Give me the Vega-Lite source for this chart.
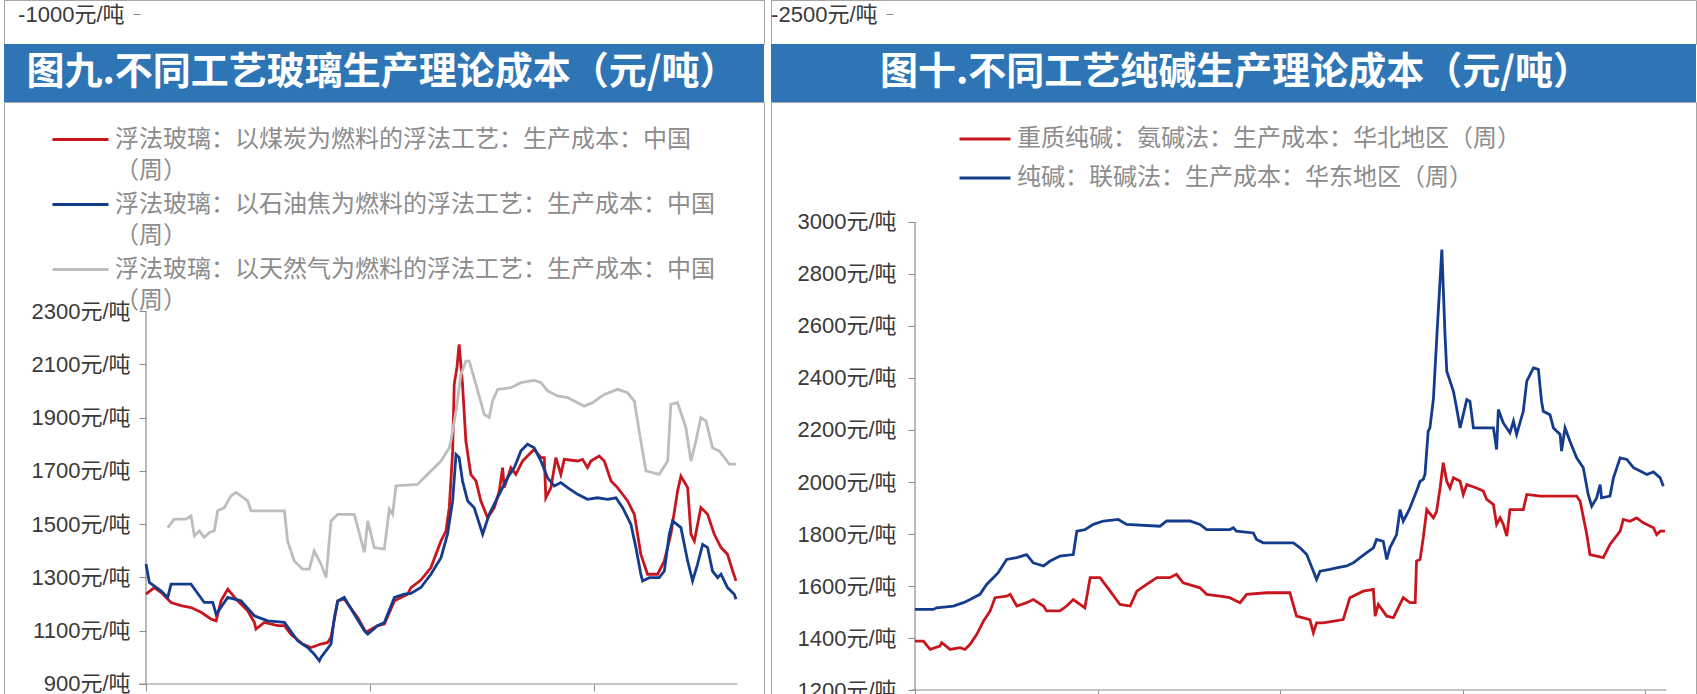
{
  "$schema": "https://vega.github.io/schema/vega-lite/v6.json",
  "padding": {"left": 3, "top": -1, "right": 2, "bottom": 0},
  "background": "white",
  "bounds": "flush",
  "columns": 2,
  "spacing": {"row": 0, "column": 7},
  "resolve": {"scale": {"color": "independent"}, "legend": {"color": "independent"}},
  "config": {
    "view": {"stroke": null},
    "style": {"guide-label": {"lineHeight": 31}},
    "axis": {"grid": false, "domainColor": "#8c8c8c", "tickColor": "#8c8c8c", "labelColor": "#3a3a3a", "labelFont": "Liberation Sans, Noto Sans CJK SC", "labelFontSize": 22, "tickSize": 7, "labelPadding": 9, "title": null}
  },
  "datasets": {
    "glass": [
      {"s":"浮法玻璃：以煤炭为燃料的浮法工艺：生产成本：中国（周）","u":0,"v":1237},{"s":"浮法玻璃：以煤炭为燃料的浮法工艺：生产成本：中国（周）","u":3.7,"v":1262},{"s":"浮法玻璃：以煤炭为燃料的浮法工艺：生产成本：中国（周）","u":6.7,"v":1244},{"s":"浮法玻璃：以煤炭为燃料的浮法工艺：生产成本：中国（周）","u":11.2,"v":1206},{"s":"浮法玻璃：以煤炭为燃料的浮法工艺：生产成本：中国（周）","u":15.6,"v":1194},{"s":"浮法玻璃：以煤炭为燃料的浮法工艺：生产成本：中国（周）","u":20.1,"v":1187},{"s":"浮法玻璃：以煤炭为燃料的浮法工艺：生产成本：中国（周）","u":24.6,"v":1169},{"s":"浮法玻璃：以煤炭为燃料的浮法工艺：生产成本：中国（周）","u":29.0,"v":1144},{"s":"浮法玻璃：以煤炭为燃料的浮法工艺：生产成本：中国（周）","u":31.3,"v":1137},{"s":"浮法玻璃：以煤炭为燃料的浮法工艺：生产成本：中国（周）","u":33.5,"v":1212},{"s":"浮法玻璃：以煤炭为燃料的浮法工艺：生产成本：中国（周）","u":36.5,"v":1256},{"s":"浮法玻璃：以煤炭为燃料的浮法工艺：生产成本：中国（周）","u":40.9,"v":1212},{"s":"浮法玻璃：以煤炭为燃料的浮法工艺：生产成本：中国（周）","u":45.4,"v":1175},{"s":"浮法玻璃：以煤炭为燃料的浮法工艺：生产成本：中国（周）","u":48.4,"v":1131},{"s":"浮法玻璃：以煤炭为燃料的浮法工艺：生产成本：中国（周）","u":49.1,"v":1106},{"s":"浮法玻璃：以煤炭为燃料的浮法工艺：生产成本：中国（周）","u":52.8,"v":1131},{"s":"浮法玻璃：以煤炭为燃料的浮法工艺：生产成本：中国（周）","u":58.8,"v":1119},{"s":"浮法玻璃：以煤炭为燃料的浮法工艺：生产成本：中国（周）","u":61.8,"v":1119},{"s":"浮法玻璃：以煤炭为燃料的浮法工艺：生产成本：中国（周）","u":64.7,"v":1087},{"s":"浮法玻璃：以煤炭为燃料的浮法工艺：生产成本：中国（周）","u":69.9,"v":1050},{"s":"浮法玻璃：以煤炭为燃料的浮法工艺：生产成本：中国（周）","u":73.7,"v":1037},{"s":"浮法玻璃：以煤炭为燃料的浮法工艺：生产成本：中国（周）","u":78.1,"v":1050},{"s":"浮法玻璃：以煤炭为燃料的浮法工艺：生产成本：中国（周）","u":81.1,"v":1056},{"s":"浮法玻璃：以煤炭为燃料的浮法工艺：生产成本：中国（周）","u":82.6,"v":1075},{"s":"浮法玻璃：以煤炭为燃料的浮法工艺：生产成本：中国（周）","u":85.6,"v":1212},{"s":"浮法玻璃：以煤炭为燃料的浮法工艺：生产成本：中国（周）","u":88.5,"v":1219},{"s":"浮法玻璃：以煤炭为燃料的浮法工艺：生产成本：中国（周）","u":94.5,"v":1150},{"s":"浮法玻璃：以煤炭为燃料的浮法工艺：生产成本：中国（周）","u":98.2,"v":1094},{"s":"浮法玻璃：以煤炭为燃料的浮法工艺：生产成本：中国（周）","u":103.4,"v":1119},{"s":"浮法玻璃：以煤炭为燃料的浮法工艺：生产成本：中国（周）","u":106.4,"v":1125},{"s":"浮法玻璃：以煤炭为燃料的浮法工艺：生产成本：中国（周）","u":110.9,"v":1212},{"s":"浮法玻璃：以煤炭为燃料的浮法工艺：生产成本：中国（周）","u":116.8,"v":1237},{"s":"浮法玻璃：以煤炭为燃料的浮法工艺：生产成本：中国（周）","u":118.3,"v":1262},{"s":"浮法玻璃：以煤炭为燃料的浮法工艺：生产成本：中国（周）","u":122.7,"v":1290},{"s":"浮法玻璃：以煤炭为燃料的浮法工艺：生产成本：中国（周）","u":127.2,"v":1337},{"s":"浮法玻璃：以煤炭为燃料的浮法工艺：生产成本：中国（周）","u":131.7,"v":1437},{"s":"浮法玻璃：以煤炭为燃料的浮法工艺：生产成本：中国（周）","u":133.9,"v":1474},{"s":"浮法玻璃：以煤炭为燃料的浮法工艺：生产成本：中国（周）","u":135.4,"v":1562},{"s":"浮法玻璃：以煤炭为燃料的浮法工艺：生产成本：中国（周）","u":136.9,"v":1775},{"s":"浮法玻璃：以煤炭为燃料的浮法工艺：生产成本：中国（周）","u":137.6,"v":2025},{"s":"浮法玻璃：以煤炭为燃料的浮法工艺：生产成本：中国（周）","u":138.8,"v":2087},{"s":"浮法玻璃：以煤炭为燃料的浮法工艺：生产成本：中国（周）","u":139.8,"v":2175},{"s":"浮法玻璃：以煤炭为燃料的浮法工艺：生产成本：中国（周）","u":141.3,"v":2025},{"s":"浮法玻璃：以煤炭为燃料的浮法工艺：生产成本：中国（周）","u":142.8,"v":1812},{"s":"浮法玻璃：以煤炭为燃料的浮法工艺：生产成本：中国（周）","u":145.0,"v":1687},{"s":"浮法玻璃：以煤炭为燃料的浮法工艺：生产成本：中国（周）","u":147.3,"v":1662},{"s":"浮法玻璃：以煤炭为燃料的浮法工艺：生产成本：中国（周）","u":149.5,"v":1587},{"s":"浮法玻璃：以煤炭为燃料的浮法工艺：生产成本：中国（周）","u":152.5,"v":1524},{"s":"浮法玻璃：以煤炭为燃料的浮法工艺：生产成本：中国（周）","u":155.5,"v":1562},{"s":"浮法玻璃：以煤炭为燃料的浮法工艺：生产成本：中国（周）","u":157.7,"v":1624},{"s":"浮法玻璃：以煤炭为燃料的浮法工艺：生产成本：中国（周）","u":159.2,"v":1712},{"s":"浮法玻璃：以煤炭为燃料的浮法工艺：生产成本：中国（周）","u":159.9,"v":1637},{"s":"浮法玻璃：以煤炭为燃料的浮法工艺：生产成本：中国（周）","u":162.9,"v":1712},{"s":"浮法玻璃：以煤炭为燃料的浮法工艺：生产成本：中国（周）","u":165.1,"v":1687},{"s":"浮法玻璃：以煤炭为燃料的浮法工艺：生产成本：中国（周）","u":168.1,"v":1737},{"s":"浮法玻璃：以煤炭为燃料的浮法工艺：生产成本：中国（周）","u":171.1,"v":1762},{"s":"浮法玻璃：以煤炭为燃料的浮法工艺：生产成本：中国（周）","u":173.3,"v":1781},{"s":"浮法玻璃：以煤炭为燃料的浮法工艺：生产成本：中国（周）","u":176.3,"v":1750},{"s":"浮法玻璃：以煤炭为燃料的浮法工艺：生产成本：中国（周）","u":177.8,"v":1750},{"s":"浮法玻璃：以煤炭为燃料的浮法工艺：生产成本：中国（周）","u":178.5,"v":1599},{"s":"浮法玻璃：以煤炭为燃料的浮法工艺：生产成本：中国（周）","u":180.8,"v":1637},{"s":"浮法玻璃：以煤炭为燃料的浮法工艺：生产成本：中国（周）","u":183.0,"v":1750},{"s":"浮法玻璃：以煤炭为燃料的浮法工艺：生产成本：中国（周）","u":185.2,"v":1687},{"s":"浮法玻璃：以煤炭为燃料的浮法工艺：生产成本：中国（周）","u":186.7,"v":1743},{"s":"浮法玻璃：以煤炭为燃料的浮法工艺：生产成本：中国（周）","u":192.7,"v":1737},{"s":"浮法玻璃：以煤炭为燃料的浮法工艺：生产成本：中国（周）","u":194.9,"v":1743},{"s":"浮法玻璃：以煤炭为燃料的浮法工艺：生产成本：中国（周）","u":197.1,"v":1712},{"s":"浮法玻璃：以煤炭为燃料的浮法工艺：生产成本：中国（周）","u":198.6,"v":1737},{"s":"浮法玻璃：以煤炭为燃料的浮法工艺：生产成本：中国（周）","u":202.3,"v":1756},{"s":"浮法玻璃：以煤炭为燃料的浮法工艺：生产成本：中国（周）","u":204.6,"v":1737},{"s":"浮法玻璃：以煤炭为燃料的浮法工艺：生产成本：中国（周）","u":207.6,"v":1662},{"s":"浮法玻璃：以煤炭为燃料的浮法工艺：生产成本：中国（周）","u":210.5,"v":1637},{"s":"浮法玻璃：以煤炭为燃料的浮法工艺：生产成本：中国（周）","u":215.0,"v":1587},{"s":"浮法玻璃：以煤炭为燃料的浮法工艺：生产成本：中国（周）","u":218.0,"v":1537},{"s":"浮法玻璃：以煤炭为燃料的浮法工艺：生产成本：中国（周）","u":220.9,"v":1387},{"s":"浮法玻璃：以煤炭为燃料的浮法工艺：生产成本：中国（周）","u":223.9,"v":1312},{"s":"浮法玻璃：以煤炭为燃料的浮法工艺：生产成本：中国（周）","u":228.4,"v":1312},{"s":"浮法玻璃：以煤炭为燃料的浮法工艺：生产成本：中国（周）","u":231.4,"v":1362},{"s":"浮法玻璃：以煤炭为燃料的浮法工艺：生产成本：中国（周）","u":234.3,"v":1462},{"s":"浮法玻璃：以煤炭为燃料的浮法工艺：生产成本：中国（周）","u":237.3,"v":1624},{"s":"浮法玻璃：以煤炭为燃料的浮法工艺：生产成本：中国（周）","u":238.8,"v":1680},{"s":"浮法玻璃：以煤炭为燃料的浮法工艺：生产成本：中国（周）","u":241.8,"v":1637},{"s":"浮法玻璃：以煤炭为燃料的浮法工艺：生产成本：中国（周）","u":243.3,"v":1462},{"s":"浮法玻璃：以煤炭为燃料的浮法工艺：生产成本：中国（周）","u":244.8,"v":1437},{"s":"浮法玻璃：以煤炭为燃料的浮法工艺：生产成本：中国（周）","u":247.7,"v":1562},{"s":"浮法玻璃：以煤炭为燃料的浮法工艺：生产成本：中国（周）","u":250.7,"v":1537},{"s":"浮法玻璃：以煤炭为燃料的浮法工艺：生产成本：中国（周）","u":253.7,"v":1462},{"s":"浮法玻璃：以煤炭为燃料的浮法工艺：生产成本：中国（周）","u":256.7,"v":1412},{"s":"浮法玻璃：以煤炭为燃料的浮法工艺：生产成本：中国（周）","u":259.6,"v":1387},{"s":"浮法玻璃：以煤炭为燃料的浮法工艺：生产成本：中国（周）","u":261.9,"v":1324},{"s":"浮法玻璃：以煤炭为燃料的浮法工艺：生产成本：中国（周）","u":263.4,"v":1287},
      {"s":"浮法玻璃：以石油焦为燃料的浮法工艺：生产成本：中国（周）","u":0,"v":1350},{"s":"浮法玻璃：以石油焦为燃料的浮法工艺：生产成本：中国（周）","u":1.5,"v":1281},{"s":"浮法玻璃：以石油焦为燃料的浮法工艺：生产成本：中国（周）","u":6.7,"v":1250},{"s":"浮法玻璃：以石油焦为燃料的浮法工艺：生产成本：中国（周）","u":9.7,"v":1225},{"s":"浮法玻璃：以石油焦为燃料的浮法工艺：生产成本：中国（周）","u":11.2,"v":1275},{"s":"浮法玻璃：以石油焦为燃料的浮法工艺：生产成本：中国（周）","u":20.1,"v":1275},{"s":"浮法玻璃：以石油焦为燃料的浮法工艺：生产成本：中国（周）","u":26.0,"v":1206},{"s":"浮法玻璃：以石油焦为燃料的浮法工艺：生产成本：中国（周）","u":29.8,"v":1206},{"s":"浮法玻璃：以石油焦为燃料的浮法工艺：生产成本：中国（周）","u":31.3,"v":1162},{"s":"浮法玻璃：以石油焦为燃料的浮法工艺：生产成本：中国（周）","u":36.5,"v":1225},{"s":"浮法玻璃：以石油焦为燃料的浮法工艺：生产成本：中国（周）","u":42.4,"v":1212},{"s":"浮法玻璃：以石油焦为燃料的浮法工艺：生产成本：中国（周）","u":48.4,"v":1156},{"s":"浮法玻璃：以石油焦为燃料的浮法工艺：生产成本：中国（周）","u":54.3,"v":1137},{"s":"浮法玻璃：以石油焦为燃料的浮法工艺：生产成本：中国（周）","u":61.8,"v":1131},{"s":"浮法玻璃：以石油焦为燃料的浮法工艺：生产成本：中国（周）","u":67.7,"v":1062},{"s":"浮法玻璃：以石油焦为燃料的浮法工艺：生产成本：中国（周）","u":72.2,"v":1037},{"s":"浮法玻璃：以石油焦为燃料的浮法工艺：生产成本：中国（周）","u":75.1,"v":1012},{"s":"浮法玻璃：以石油焦为燃料的浮法工艺：生产成本：中国（周）","u":77.4,"v":987},{"s":"浮法玻璃：以石油焦为燃料的浮法工艺：生产成本：中国（周）","u":78.1,"v":1000},{"s":"浮法玻璃：以石油焦为燃料的浮法工艺：生产成本：中国（周）","u":80.4,"v":1025},{"s":"浮法玻璃：以石油焦为燃料的浮法工艺：生产成本：中国（周）","u":82.6,"v":1050},{"s":"浮法玻璃：以石油焦为燃料的浮法工艺：生产成本：中国（周）","u":84.1,"v":1150},{"s":"浮法玻璃：以石油焦为燃料的浮法工艺：生产成本：中国（周）","u":85.6,"v":1212},{"s":"浮法玻璃：以石油焦为燃料的浮法工艺：生产成本：中国（周）","u":88.5,"v":1225},{"s":"浮法玻璃：以石油焦为燃料的浮法工艺：生产成本：中国（周）","u":93.0,"v":1162},{"s":"浮法玻璃：以石油焦为燃料的浮法工艺：生产成本：中国（周）","u":97.5,"v":1100},{"s":"浮法玻璃：以石油焦为燃料的浮法工艺：生产成本：中国（周）","u":99.0,"v":1087},{"s":"浮法玻璃：以石油焦为燃料的浮法工艺：生产成本：中国（周）","u":103.4,"v":1119},{"s":"浮法玻璃：以石油焦为燃料的浮法工艺：生产成本：中国（周）","u":106.4,"v":1131},{"s":"浮法玻璃：以石油焦为燃料的浮法工艺：生产成本：中国（周）","u":110.9,"v":1225},{"s":"浮法玻璃：以石油焦为燃料的浮法工艺：生产成本：中国（周）","u":115.3,"v":1237},{"s":"浮法玻璃：以石油焦为燃料的浮法工艺：生产成本：中国（周）","u":118.3,"v":1240},{"s":"浮法玻璃：以石油焦为燃料的浮法工艺：生产成本：中国（周）","u":122.7,"v":1262},{"s":"浮法玻璃：以石油焦为燃料的浮法工艺：生产成本：中国（周）","u":127.2,"v":1312},{"s":"浮法玻璃：以石油焦为燃料的浮法工艺：生产成本：中国（周）","u":131.7,"v":1374},{"s":"浮法玻璃：以石油焦为燃料的浮法工艺：生产成本：中国（周）","u":134.6,"v":1462},{"s":"浮法玻璃：以石油焦为燃料的浮法工艺：生产成本：中国（周）","u":136.9,"v":1587},{"s":"浮法玻璃：以石油焦为燃料的浮法工艺：生产成本：中国（周）","u":138.4,"v":1762},{"s":"浮法玻璃：以石油焦为燃料的浮法工艺：生产成本：中国（周）","u":139.8,"v":1750},{"s":"浮法玻璃：以石油焦为燃料的浮法工艺：生产成本：中国（周）","u":141.3,"v":1662},{"s":"浮法玻璃：以石油焦为燃料的浮法工艺：生产成本：中国（周）","u":143.6,"v":1587},{"s":"浮法玻璃：以石油焦为燃料的浮法工艺：生产成本：中国（周）","u":146.5,"v":1562},{"s":"浮法玻璃：以石油焦为燃料的浮法工艺：生产成本：中国（周）","u":150.3,"v":1462},{"s":"浮法玻璃：以石油焦为燃料的浮法工艺：生产成本：中国（周）","u":153.2,"v":1537},{"s":"浮法玻璃：以石油焦为燃料的浮法工艺：生产成本：中国（周）","u":156.2,"v":1587},{"s":"浮法玻璃：以石油焦为燃料的浮法工艺：生产成本：中国（周）","u":159.2,"v":1637},{"s":"浮法玻璃：以石油焦为燃料的浮法工艺：生产成本：中国（周）","u":161.4,"v":1674},{"s":"浮法玻璃：以石油焦为燃料的浮法工艺：生产成本：中国（周）","u":164.4,"v":1712},{"s":"浮法玻璃：以石油焦为燃料的浮法工艺：生产成本：中国（周）","u":167.4,"v":1775},{"s":"浮法玻璃：以石油焦为燃料的浮法工艺：生产成本：中国（周）","u":170.3,"v":1800},{"s":"浮法玻璃：以石油焦为燃料的浮法工艺：生产成本：中国（周）","u":173.3,"v":1787},{"s":"浮法玻璃：以石油焦为燃料的浮法工艺：生产成本：中国（周）","u":176.3,"v":1737},{"s":"浮法玻璃：以石油焦为燃料的浮法工艺：生产成本：中国（周）","u":179.3,"v":1674},{"s":"浮法玻璃：以石油焦为燃料的浮法工艺：生产成本：中国（周）","u":182.3,"v":1643},{"s":"浮法玻璃：以石油焦为燃料的浮法工艺：生产成本：中国（周）","u":185.2,"v":1656},{"s":"浮法玻璃：以石油焦为燃料的浮法工艺：生产成本：中国（周）","u":188.2,"v":1637},{"s":"浮法玻璃：以石油焦为燃料的浮法工艺：生产成本：中国（周）","u":192.7,"v":1612},{"s":"浮法玻璃：以石油焦为燃料的浮法工艺：生产成本：中国（周）","u":197.1,"v":1593},{"s":"浮法玻璃：以石油焦为燃料的浮法工艺：生产成本：中国（周）","u":201.6,"v":1599},{"s":"浮法玻璃：以石油焦为燃料的浮法工艺：生产成本：中国（周）","u":206.1,"v":1593},{"s":"浮法玻璃：以石油焦为燃料的浮法工艺：生产成本：中国（周）","u":209.8,"v":1599},{"s":"浮法玻璃：以石油焦为燃料的浮法工艺：生产成本：中国（周）","u":212.8,"v":1562},{"s":"浮法玻璃：以石油焦为燃料的浮法工艺：生产成本：中国（周）","u":216.5,"v":1499},{"s":"浮法玻璃：以石油焦为燃料的浮法工艺：生产成本：中国（周）","u":218.7,"v":1412},{"s":"浮法玻璃：以石油焦为燃料的浮法工艺：生产成本：中国（周）","u":220.9,"v":1312},{"s":"浮法玻璃：以石油焦为燃料的浮法工艺：生产成本：中国（周）","u":221.7,"v":1287},{"s":"浮法玻璃：以石油焦为燃料的浮法工艺：生产成本：中国（周）","u":224.7,"v":1299},{"s":"浮法玻璃：以石油焦为燃料的浮法工艺：生产成本：中国（周）","u":229.1,"v":1299},{"s":"浮法玻璃：以石油焦为燃料的浮法工艺：生产成本：中国（周）","u":231.4,"v":1324},{"s":"浮法玻璃：以石油焦为燃料的浮法工艺：生产成本：中国（周）","u":233.6,"v":1462},{"s":"浮法玻璃：以石油焦为燃料的浮法工艺：生产成本：中国（周）","u":235.1,"v":1512},{"s":"浮法玻璃：以石油焦为燃料的浮法工艺：生产成本：中国（周）","u":238.8,"v":1487},{"s":"浮法玻璃：以石油焦为燃料的浮法工艺：生产成本：中国（周）","u":241.8,"v":1362},{"s":"浮法玻璃：以石油焦为燃料的浮法工艺：生产成本：中国（周）","u":244.0,"v":1287},{"s":"浮法玻璃：以石油焦为燃料的浮法工艺：生产成本：中国（周）","u":246.2,"v":1349},{"s":"浮法玻璃：以石油焦为燃料的浮法工艺：生产成本：中国（周）","u":248.5,"v":1424},{"s":"浮法玻璃：以石油焦为燃料的浮法工艺：生产成本：中国（周）","u":250.7,"v":1412},{"s":"浮法玻璃：以石油焦为燃料的浮法工艺：生产成本：中国（周）","u":252.9,"v":1324},{"s":"浮法玻璃：以石油焦为燃料的浮法工艺：生产成本：中国（周）","u":255.2,"v":1299},{"s":"浮法玻璃：以石油焦为燃料的浮法工艺：生产成本：中国（周）","u":256.7,"v":1312},{"s":"浮法玻璃：以石油焦为燃料的浮法工艺：生产成本：中国（周）","u":259.6,"v":1262},{"s":"浮法玻璃：以石油焦为燃料的浮法工艺：生产成本：中国（周）","u":262.6,"v":1237},{"s":"浮法玻璃：以石油焦为燃料的浮法工艺：生产成本：中国（周）","u":263.4,"v":1218},
      {"s":"浮法玻璃：以天然气为燃料的浮法工艺：生产成本：中国（周）","u":9.7,"v":1487},{"s":"浮法玻璃：以天然气为燃料的浮法工艺：生产成本：中国（周）","u":12.6,"v":1519},{"s":"浮法玻璃：以天然气为燃料的浮法工艺：生产成本：中国（周）","u":17.9,"v":1519},{"s":"浮法玻璃：以天然气为燃料的浮法工艺：生产成本：中国（周）","u":20.1,"v":1531},{"s":"浮法玻璃：以天然气为燃料的浮法工艺：生产成本：中国（周）","u":21.6,"v":1456},{"s":"浮法玻璃：以天然气为燃料的浮法工艺：生产成本：中国（周）","u":23.8,"v":1475},{"s":"浮法玻璃：以天然气为燃料的浮法工艺：生产成本：中国（周）","u":26.0,"v":1450},{"s":"浮法玻璃：以天然气为燃料的浮法工艺：生产成本：中国（周）","u":28.3,"v":1469},{"s":"浮法玻璃：以天然气为燃料的浮法工艺：生产成本：中国（周）","u":30.5,"v":1475},{"s":"浮法玻璃：以天然气为燃料的浮法工艺：生产成本：中国（周）","u":32.0,"v":1550},{"s":"浮法玻璃：以天然气为燃料的浮法工艺：生产成本：中国（周）","u":35.0,"v":1562},{"s":"浮法玻璃：以天然气为燃料的浮法工艺：生产成本：中国（周）","u":37.9,"v":1606},{"s":"浮法玻璃：以天然气为燃料的浮法工艺：生产成本：中国（周）","u":40.2,"v":1619},{"s":"浮法玻璃：以天然气为燃料的浮法工艺：生产成本：中国（周）","u":45.4,"v":1587},{"s":"浮法玻璃：以天然气为燃料的浮法工艺：生产成本：中国（周）","u":46.9,"v":1550},{"s":"浮法玻璃：以天然气为燃料的浮法工艺：生产成本：中国（周）","u":61.8,"v":1550},{"s":"浮法玻璃：以天然气为燃料的浮法工艺：生产成本：中国（周）","u":63.2,"v":1437},{"s":"浮法玻璃：以天然气为燃料的浮法工艺：生产成本：中国（周）","u":66.2,"v":1362},{"s":"浮法玻璃：以天然气为燃料的浮法工艺：生产成本：中国（周）","u":69.9,"v":1331},{"s":"浮法玻璃：以天然气为燃料的浮法工艺：生产成本：中国（周）","u":72.9,"v":1331},{"s":"浮法玻璃：以天然气为燃料的浮法工艺：生产成本：中国（周）","u":75.1,"v":1400},{"s":"浮法玻璃：以天然气为燃料的浮法工艺：生产成本：中国（周）","u":78.1,"v":1350},{"s":"浮法玻璃：以天然气为燃料的浮法工艺：生产成本：中国（周）","u":80.4,"v":1300},{"s":"浮法玻璃：以天然气为燃料的浮法工艺：生产成本：中国（周）","u":82.6,"v":1512},{"s":"浮法玻璃：以天然气为燃料的浮法工艺：生产成本：中国（周）","u":85.6,"v":1537},{"s":"浮法玻璃：以天然气为燃料的浮法工艺：生产成本：中国（周）","u":93.0,"v":1537},{"s":"浮法玻璃：以天然气为燃料的浮法工艺：生产成本：中国（周）","u":97.5,"v":1394},{"s":"浮法玻璃：以天然气为燃料的浮法工艺：生产成本：中国（周）","u":99.0,"v":1512},{"s":"浮法玻璃：以天然气为燃料的浮法工艺：生产成本：中国（周）","u":101.9,"v":1412},{"s":"浮法玻璃：以天然气为燃料的浮法工艺：生产成本：中国（周）","u":106.4,"v":1406},{"s":"浮法玻璃：以天然气为燃料的浮法工艺：生产成本：中国（周）","u":108.6,"v":1556},{"s":"浮法玻璃：以天然气为燃料的浮法工艺：生产成本：中国（周）","u":110.1,"v":1537},{"s":"浮法玻璃：以天然气为燃料的浮法工艺：生产成本：中国（周）","u":111.6,"v":1644},{"s":"浮法玻璃：以天然气为燃料的浮法工艺：生产成本：中国（周）","u":121.2,"v":1649},{"s":"浮法玻璃：以天然气为燃料的浮法工艺：生产成本：中国（周）","u":125.7,"v":1687},{"s":"浮法玻璃：以天然气为燃料的浮法工艺：生产成本：中国（周）","u":131.7,"v":1737},{"s":"浮法玻璃：以天然气为燃料的浮法工艺：生产成本：中国（周）","u":135.4,"v":1787},{"s":"浮法玻璃：以天然气为燃料的浮法工艺：生产成本：中国（周）","u":136.1,"v":1812},{"s":"浮法玻璃：以天然气为燃料的浮法工艺：生产成本：中国（周）","u":138.4,"v":1924},{"s":"浮法玻璃：以天然气为燃料的浮法工艺：生产成本：中国（周）","u":140.6,"v":2062},{"s":"浮法玻璃：以天然气为燃料的浮法工艺：生产成本：中国（周）","u":142.8,"v":2112},{"s":"浮法玻璃：以天然气为燃料的浮法工艺：生产成本：中国（周）","u":144.3,"v":2112},{"s":"浮法玻璃：以天然气为燃料的浮法工艺：生产成本：中国（周）","u":147.3,"v":2025},{"s":"浮法玻璃：以天然气为燃料的浮法工艺：生产成本：中国（周）","u":151.0,"v":1912},{"s":"浮法玻璃：以天然气为燃料的浮法工艺：生产成本：中国（周）","u":153.2,"v":1900},{"s":"浮法玻璃：以天然气为燃料的浮法工艺：生产成本：中国（周）","u":154.7,"v":1962},{"s":"浮法玻璃：以天然气为燃料的浮法工艺：生产成本：中国（周）","u":157.0,"v":2006},{"s":"浮法玻璃：以天然气为燃料的浮法工艺：生产成本：中国（周）","u":162.9,"v":2012},{"s":"浮法玻璃：以天然气为燃料的浮法工艺：生产成本：中国（周）","u":167.4,"v":2031},{"s":"浮法玻璃：以天然气为燃料的浮法工艺：生产成本：中国（周）","u":173.3,"v":2040},{"s":"浮法玻璃：以天然气为燃料的浮法工艺：生产成本：中国（周）","u":176.3,"v":2031},{"s":"浮法玻璃：以天然气为燃料的浮法工艺：生产成本：中国（周）","u":179.3,"v":2000},{"s":"浮法玻璃：以天然气为燃料的浮法工艺：生产成本：中国（周）","u":183.7,"v":1981},{"s":"浮法玻璃：以天然气为燃料的浮法工艺：生产成本：中国（周）","u":188.2,"v":1975},{"s":"浮法玻璃：以天然气为燃料的浮法工艺：生产成本：中国（周）","u":191.2,"v":1962},{"s":"浮法玻璃：以天然气为燃料的浮法工艺：生产成本：中国（周）","u":195.6,"v":1943},{"s":"浮法玻璃：以天然气为燃料的浮法工艺：生产成本：中国（周）","u":199.4,"v":1956},{"s":"浮法玻璃：以天然气为燃料的浮法工艺：生产成本：中国（周）","u":204.6,"v":1987},{"s":"浮法玻璃：以天然气为燃料的浮法工艺：生产成本：中国（周）","u":210.5,"v":2006},{"s":"浮法玻璃：以天然气为燃料的浮法工艺：生产成本：中国（周）","u":215.0,"v":1993},{"s":"浮法玻璃：以天然气为燃料的浮法工艺：生产成本：中国（周）","u":218.0,"v":1962},{"s":"浮法玻璃：以天然气为燃料的浮法工艺：生产成本：中国（周）","u":220.9,"v":1812},{"s":"浮法玻璃：以天然气为燃料的浮法工艺：生产成本：中国（周）","u":223.2,"v":1700},{"s":"浮法玻璃：以天然气为燃料的浮法工艺：生产成本：中国（周）","u":229.1,"v":1687},{"s":"浮法玻璃：以天然气为燃料的浮法工艺：生产成本：中国（周）","u":232.9,"v":1737},{"s":"浮法玻璃：以天然气为燃料的浮法工艺：生产成本：中国（周）","u":234.3,"v":1950},{"s":"浮法玻璃：以天然气为燃料的浮法工艺：生产成本：中国（周）","u":237.3,"v":1956},{"s":"浮法玻璃：以天然气为燃料的浮法工艺：生产成本：中国（周）","u":241.0,"v":1862},{"s":"浮法玻璃：以天然气为燃料的浮法工艺：生产成本：中国（周）","u":243.3,"v":1737},{"s":"浮法玻璃：以天然气为燃料的浮法工艺：生产成本：中国（周）","u":245.5,"v":1812},{"s":"浮法玻璃：以天然气为燃料的浮法工艺：生产成本：中国（周）","u":247.7,"v":1900},{"s":"浮法玻璃：以天然气为燃料的浮法工艺：生产成本：中国（周）","u":250.0,"v":1887},{"s":"浮法玻璃：以天然气为燃料的浮法工艺：生产成本：中国（周）","u":252.9,"v":1787},{"s":"浮法玻璃：以天然气为燃料的浮法工艺：生产成本：中国（周）","u":255.9,"v":1775},{"s":"浮法玻璃：以天然气为燃料的浮法工艺：生产成本：中国（周）","u":260.4,"v":1725},{"s":"浮法玻璃：以天然气为燃料的浮法工艺：生产成本：中国（周）","u":263.4,"v":1725}
    ],
    "soda": [
      {"s":"重质纯碱：氨碱法：生产成本：华北地区（周）","u":0,"v":1388},{"s":"重质纯碱：氨碱法：生产成本：华北地区（周）","u":2.4,"v":1388},{"s":"重质纯碱：氨碱法：生产成本：华北地区（周）","u":4.3,"v":1356},{"s":"重质纯碱：氨碱法：生产成本：华北地区（周）","u":7.1,"v":1369},{"s":"重质纯碱：氨碱法：生产成本：华北地区（周）","u":7.6,"v":1382},{"s":"重质纯碱：氨碱法：生产成本：华北地区（周）","u":10.0,"v":1356},{"s":"重质纯碱：氨碱法：生产成本：华北地区（周）","u":12.8,"v":1363},{"s":"重质纯碱：氨碱法：生产成本：华北地区（周）","u":14.2,"v":1356},{"s":"重质纯碱：氨碱法：生产成本：华北地区（周）","u":15.7,"v":1376},{"s":"重质纯碱：氨碱法：生产成本：华北地区（周）","u":17.6,"v":1414},{"s":"重质纯碱：氨碱法：生产成本：华北地区（周）","u":19.5,"v":1465},{"s":"重质纯碱：氨碱法：生产成本：华北地区（周）","u":21.4,"v":1504},{"s":"重质纯碱：氨碱法：生产成本：华北地区（周）","u":22.8,"v":1555},{"s":"重质纯碱：氨碱法：生产成本：华北地区（周）","u":26.1,"v":1561},{"s":"重质纯碱：氨碱法：生产成本：华北地区（周）","u":27.1,"v":1568},{"s":"重质纯碱：氨碱法：生产成本：华北地区（周）","u":29.0,"v":1523},{"s":"重质纯碱：氨碱法：生产成本：华北地区（周）","u":31.8,"v":1536},{"s":"重质纯碱：氨碱法：生产成本：华北地区（周）","u":33.7,"v":1548},{"s":"重质纯碱：氨碱法：生产成本：华北地区（周）","u":36.6,"v":1523},{"s":"重质纯碱：氨碱法：生产成本：华北地区（周）","u":37.5,"v":1504},{"s":"重质纯碱：氨碱法：生产成本：华北地区（周）","u":41.3,"v":1504},{"s":"重质纯碱：氨碱法：生产成本：华北地区（周）","u":43.2,"v":1523},{"s":"重质纯碱：氨碱法：生产成本：华北地区（周）","u":45.1,"v":1548},{"s":"重质纯碱：氨碱法：生产成本：华北地区（周）","u":48.4,"v":1516},{"s":"重质纯碱：氨碱法：生产成本：华北地区（周）","u":49.9,"v":1632},{"s":"重质纯碱：氨碱法：生产成本：华北地区（周）","u":52.7,"v":1632},{"s":"重质纯碱：氨碱法：生产成本：华北地区（周）","u":55.6,"v":1580},{"s":"重质纯碱：氨碱法：生产成本：华北地区（周）","u":58.4,"v":1529},{"s":"重质纯碱：氨碱法：生产成本：华北地区（周）","u":61.3,"v":1523},{"s":"重质纯碱：氨碱法：生产成本：华北地区（周）","u":63.2,"v":1580},{"s":"重质纯碱：氨碱法：生产成本：华北地区（周）","u":66.0,"v":1606},{"s":"重质纯碱：氨碱法：生产成本：华北地区（周）","u":68.9,"v":1632},{"s":"重质纯碱：氨碱法：生产成本：华北地区（周）","u":72.6,"v":1632},{"s":"重质纯碱：氨碱法：生产成本：华北地区（周）","u":74.5,"v":1645},{"s":"重质纯碱：氨碱法：生产成本：华北地区（周）","u":76.4,"v":1612},{"s":"重质纯碱：氨碱法：生产成本：华北地区（周）","u":81.2,"v":1593},{"s":"重质纯碱：氨碱法：生产成本：华北地区（周）","u":83.1,"v":1568},{"s":"重质纯碱：氨碱法：生产成本：华北地区（周）","u":86.9,"v":1561},{"s":"重质纯碱：氨碱法：生产成本：华北地区（周）","u":89.7,"v":1555},{"s":"重质纯碱：氨碱法：生产成本：华北地区（周）","u":90.7,"v":1548},{"s":"重质纯碱：氨碱法：生产成本：华北地区（周）","u":92.6,"v":1536},{"s":"重质纯碱：氨碱法：生产成本：华北地区（周）","u":94.5,"v":1568},{"s":"重质纯碱：氨碱法：生产成本：华北地区（周）","u":100.2,"v":1574},{"s":"重质纯碱：氨碱法：生产成本：华北地区（周）","u":106.8,"v":1574},{"s":"重质纯碱：氨碱法：生产成本：华北地区（周）","u":108.7,"v":1484},{"s":"重质纯碱：氨碱法：生产成本：华北地区（周）","u":112.5,"v":1471},{"s":"重质纯碱：氨碱法：生产成本：华北地区（周）","u":113.5,"v":1420},{"s":"重质纯碱：氨碱法：生产成本：华北地区（周）","u":114.4,"v":1458},{"s":"重质纯碱：氨碱法：生产成本：华北地区（周）","u":116.3,"v":1458},{"s":"重质纯碱：氨碱法：生产成本：华北地区（周）","u":122.0,"v":1471},{"s":"重质纯碱：氨碱法：生产成本：华北地区（周）","u":123.9,"v":1555},{"s":"重质纯碱：氨碱法：生产成本：华北地区（周）","u":127.7,"v":1580},{"s":"重质纯碱：氨碱法：生产成本：华北地区（周）","u":130.6,"v":1587},{"s":"重质纯碱：氨碱法：生产成本：华北地区（周）","u":131.1,"v":1484},{"s":"重质纯碱：氨碱法：生产成本：华北地区（周）","u":132.0,"v":1529},{"s":"重质纯碱：氨碱法：生产成本：华北地区（周）","u":134.4,"v":1484},{"s":"重质纯碱：氨碱法：生产成本：华北地区（周）","u":136.3,"v":1478},{"s":"重质纯碱：氨碱法：生产成本：华北地区（周）","u":139.1,"v":1555},{"s":"重质纯碱：氨碱法：生产成本：华北地区（周）","u":141.0,"v":1536},{"s":"重质纯碱：氨碱法：生产成本：华北地区（周）","u":142.5,"v":1536},{"s":"重质纯碱：氨碱法：生产成本：华北地区（周）","u":142.9,"v":1696},{"s":"重质纯碱：氨碱法：生产成本：华北地区（周）","u":143.9,"v":1702},{"s":"重质纯碱：氨碱法：生产成本：华北地区（周）","u":144.8,"v":1785},{"s":"重质纯碱：氨碱法：生产成本：华北地区（周）","u":145.8,"v":1894},{"s":"重质纯碱：氨碱法：生产成本：华北地区（周）","u":147.7,"v":1862},{"s":"重质纯碱：氨碱法：生产成本：华北地区（周）","u":148.6,"v":1887},{"s":"重质纯碱：氨碱法：生产成本：华北地区（周）","u":149.6,"v":1977},{"s":"重质纯碱：氨碱法：生产成本：华北地区（周）","u":150.5,"v":2074},{"s":"重质纯碱：氨碱法：生产成本：华北地区（周）","u":151.5,"v":2003},{"s":"重质纯碱：氨碱法：生产成本：华北地区（周）","u":152.4,"v":1977},{"s":"重质纯碱：氨碱法：生产成本：华北地区（周）","u":153.4,"v":2016},{"s":"重质纯碱：氨碱法：生产成本：华北地区（周）","u":155.3,"v":2003},{"s":"重质纯碱：氨碱法：生产成本：华北地区（周）","u":156.2,"v":1952},{"s":"重质纯碱：氨碱法：生产成本：华北地区（周）","u":157.2,"v":1990},{"s":"重质纯碱：氨碱法：生产成本：华北地区（周）","u":160.0,"v":1977},{"s":"重质纯碱：氨碱法：生产成本：华北地区（周）","u":161.9,"v":1965},{"s":"重质纯碱：氨碱法：生产成本：华北地区（周）","u":162.9,"v":1933},{"s":"重质纯碱：氨碱法：生产成本：华北地区（周）","u":164.8,"v":1913},{"s":"重质纯碱：氨碱法：生产成本：华北地区（周）","u":165.7,"v":1837},{"s":"重质纯碱：氨碱法：生产成本：华北地区（周）","u":166.7,"v":1862},{"s":"重质纯碱：氨碱法：生产成本：华北地区（周）","u":167.6,"v":1837},{"s":"重质纯碱：氨碱法：生产成本：华北地区（周）","u":168.6,"v":1792},{"s":"重质纯碱：氨碱法：生产成本：华北地区（周）","u":169.5,"v":1894},{"s":"重质纯碱：氨碱法：生产成本：华北地区（周）","u":173.3,"v":1894},{"s":"重质纯碱：氨碱法：生产成本：华北地区（周）","u":174.3,"v":1952},{"s":"重质纯碱：氨碱法：生产成本：华北地区（周）","u":178.1,"v":1946},{"s":"重质纯碱：氨碱法：生产成本：华北地区（周）","u":188.5,"v":1946},{"s":"重质纯碱：氨碱法：生产成本：华北地区（周）","u":189.5,"v":1926},{"s":"重质纯碱：氨碱法：生产成本：华北地区（周）","u":191.4,"v":1798},{"s":"重质纯碱：氨碱法：生产成本：华北地区（周）","u":192.3,"v":1721},{"s":"重质纯碱：氨碱法：生产成本：华北地区（周）","u":196.1,"v":1709},{"s":"重质纯碱：氨碱法：生产成本：华北地区（周）","u":198.0,"v":1760},{"s":"重质纯碱：氨碱法：生产成本：华北地区（周）","u":200.9,"v":1811},{"s":"重质纯碱：氨碱法：生产成本：华北地区（周）","u":201.8,"v":1856},{"s":"重质纯碱：氨碱法：生产成本：华北地区（周）","u":203.7,"v":1849},{"s":"重质纯碱：氨碱法：生产成本：华北地区（周）","u":205.6,"v":1862},{"s":"重质纯碱：氨碱法：生产成本：华北地区（周）","u":207.5,"v":1843},{"s":"重质纯碱：氨碱法：生产成本：华北地区（周）","u":210.4,"v":1824},{"s":"重质纯碱：氨碱法：生产成本：华北地区（周）","u":211.3,"v":1798},{"s":"重质纯碱：氨碱法：生产成本：华北地区（周）","u":212.3,"v":1811},{"s":"重质纯碱：氨碱法：生产成本：华北地区（周）","u":213.7,"v":1811},
      {"s":"纯碱：联碱法：生产成本：华东地区（周）","u":0,"v":1510},{"s":"纯碱：联碱法：生产成本：华东地区（周）","u":5.2,"v":1510},{"s":"纯碱：联碱法：生产成本：华东地区（周）","u":6.2,"v":1516},{"s":"纯碱：联碱法：生产成本：华东地区（周）","u":10.9,"v":1523},{"s":"纯碱：联碱法：生产成本：华东地区（周）","u":13.8,"v":1536},{"s":"纯碱：联碱法：生产成本：华东地区（周）","u":15.7,"v":1548},{"s":"纯碱：联碱法：生产成本：华东地区（周）","u":18.5,"v":1568},{"s":"纯碱：联碱法：生产成本：华东地区（周）","u":20.4,"v":1606},{"s":"纯碱：联碱法：生产成本：华东地区（周）","u":22.3,"v":1632},{"s":"纯碱：联碱法：生产成本：华东地区（周）","u":23.7,"v":1651},{"s":"纯碱：联碱法：生产成本：华东地区（周）","u":26.1,"v":1702},{"s":"纯碱：联碱法：生产成本：华东地区（周）","u":29.0,"v":1709},{"s":"纯碱：联碱法：生产成本：华东地区（周）","u":31.8,"v":1721},{"s":"纯碱：联碱法：生产成本：华东地区（周）","u":33.7,"v":1689},{"s":"纯碱：联碱法：生产成本：华东地区（周）","u":36.6,"v":1677},{"s":"纯碱：联碱法：生产成本：华东地区（周）","u":38.5,"v":1696},{"s":"纯碱：联碱法：生产成本：华东地区（周）","u":41.3,"v":1715},{"s":"纯碱：联碱法：生产成本：华东地区（周）","u":45.1,"v":1721},{"s":"纯碱：联碱法：生产成本：华东地区（周）","u":46.1,"v":1811},{"s":"纯碱：联碱法：生产成本：华东地区（周）","u":48.4,"v":1817},{"s":"纯碱：联碱法：生产成本：华东地区（周）","u":50.8,"v":1837},{"s":"纯碱：联碱法：生产成本：华东地区（周）","u":53.7,"v":1850},{"s":"纯碱：联碱法：生产成本：华东地区（周）","u":57.9,"v":1856},{"s":"纯碱：联碱法：生产成本：华东地区（周）","u":60.3,"v":1837},{"s":"纯碱：联碱法：生产成本：华东地区（周）","u":69.8,"v":1830},{"s":"纯碱：联碱法：生产成本：华东地区（周）","u":71.7,"v":1850},{"s":"纯碱：联碱法：生产成本：华东地区（周）","u":78.3,"v":1850},{"s":"纯碱：联碱法：生产成本：华东地区（周）","u":81.2,"v":1837},{"s":"纯碱：联碱法：生产成本：华东地区（周）","u":83.1,"v":1817},{"s":"纯碱：联碱法：生产成本：华东地区（周）","u":89.7,"v":1817},{"s":"纯碱：联碱法：生产成本：华东地区（周）","u":90.7,"v":1824},{"s":"纯碱：联碱法：生产成本：华东地区（周）","u":91.6,"v":1811},{"s":"纯碱：联碱法：生产成本：华东地区（周）","u":96.4,"v":1804},{"s":"纯碱：联碱法：生产成本：华东地区（周）","u":97.3,"v":1779},{"s":"纯碱：联碱法：生产成本：华东地区（周）","u":99.2,"v":1766},{"s":"纯碱：联碱法：生产成本：华东地区（周）","u":107.8,"v":1766},{"s":"纯碱：联碱法：生产成本：华东地区（周）","u":109.7,"v":1747},{"s":"纯碱：联碱法：生产成本：华东地区（周）","u":111.6,"v":1721},{"s":"纯碱：联碱法：生产成本：华东地区（周）","u":113.5,"v":1657},{"s":"纯碱：联碱法：生产成本：华东地区（周）","u":114.4,"v":1625},{"s":"纯碱：联碱法：生产成本：华东地区（周）","u":115.4,"v":1657},{"s":"纯碱：联碱法：生产成本：华东地区（周）","u":118.2,"v":1664},{"s":"纯碱：联碱法：生产成本：华东地区（周）","u":120.1,"v":1670},{"s":"纯碱：联碱法：生产成本：华东地区（周）","u":123.0,"v":1677},{"s":"纯碱：联碱法：生产成本：华东地区（周）","u":124.9,"v":1689},{"s":"纯碱：联碱法：生产成本：华东地区（周）","u":126.8,"v":1709},{"s":"纯碱：联碱法：生产成本：华东地区（周）","u":128.7,"v":1728},{"s":"纯碱：联碱法：生产成本：华东地区（周）","u":130.6,"v":1747},{"s":"纯碱：联碱法：生产成本：华东地区（周）","u":131.5,"v":1779},{"s":"纯碱：联碱法：生产成本：华东地区（周）","u":133.4,"v":1772},{"s":"纯碱：联碱法：生产成本：华东地区（周）","u":134.4,"v":1702},{"s":"纯碱：联碱法：生产成本：华东地区（周）","u":135.3,"v":1747},{"s":"纯碱：联碱法：生产成本：华东地区（周）","u":137.2,"v":1798},{"s":"纯碱：联碱法：生产成本：华东地区（周）","u":138.2,"v":1894},{"s":"纯碱：联碱法：生产成本：华东地区（周）","u":139.1,"v":1849},{"s":"纯碱：联碱法：生产成本：华东地区（周）","u":140.1,"v":1875},{"s":"纯碱：联碱法：生产成本：华东地区（周）","u":141.0,"v":1900},{"s":"纯碱：联碱法：生产成本：华东地区（周）","u":142.9,"v":1965},{"s":"纯碱：联碱法：生产成本：华东地区（周）","u":143.9,"v":2003},{"s":"纯碱：联碱法：生产成本：华东地区（周）","u":144.8,"v":2010},{"s":"纯碱：联碱法：生产成本：华东地区（周）","u":145.3,"v":2030},{"s":"纯碱：联碱法：生产成本：华东地区（周）","u":146.2,"v":2195},{"s":"纯碱：联碱法：生产成本：华东地区（周）","u":146.7,"v":2208},{"s":"纯碱：联碱法：生产成本：华东地区（周）","u":147.7,"v":2320},{"s":"纯碱：联碱法：生产成本：华东地区（周）","u":148.7,"v":2567},{"s":"纯碱：联碱法：生产成本：华东地区（周）","u":150.1,"v":2894},{"s":"纯碱：联碱法：生产成本：华东地区（周）","u":151.0,"v":2567},{"s":"纯碱：联碱法：生产成本：华东地区（周）","u":151.5,"v":2426},{"s":"纯碱：联碱法：生产成本：华东地区（周）","u":153.4,"v":2349},{"s":"纯碱：联碱法：生产成本：华东地区（周）","u":154.3,"v":2285},{"s":"纯碱：联碱法：生产成本：华东地区（周）","u":155.3,"v":2208},{"s":"纯碱：联碱法：生产成本：华东地区（周）","u":157.2,"v":2317},{"s":"纯碱：联碱法：生产成本：华东地区（周）","u":158.1,"v":2310},{"s":"纯碱：联碱法：生产成本：华东地区（周）","u":159.1,"v":2208},{"s":"纯碱：联碱法：生产成本：华东地区（周）","u":164.8,"v":2208},{"s":"纯碱：联碱法：生产成本：华东地区（周）","u":165.7,"v":2125},{"s":"纯碱：联碱法：生产成本：华东地区（周）","u":166.2,"v":2279},{"s":"纯碱：联碱法：生产成本：华东地区（周）","u":167.6,"v":2227},{"s":"纯碱：联碱法：生产成本：华东地区（周）","u":169.5,"v":2189},{"s":"纯碱：联碱法：生产成本：华东地区（周）","u":170.5,"v":2234},{"s":"纯碱：联碱法：生产成本：华东地区（周）","u":171.4,"v":2183},{"s":"纯碱：联碱法：生产成本：华东地区（周）","u":173.3,"v":2272},{"s":"纯碱：联碱法：生产成本：华东地区（周）","u":174.3,"v":2388},{"s":"纯碱：联碱法：生产成本：华东地区（周）","u":176.2,"v":2439},{"s":"纯碱：联碱法：生产成本：华东地区（周）","u":177.6,"v":2433},{"s":"纯碱：联碱法：生产成本：华东地区（周）","u":178.5,"v":2311},{"s":"纯碱：联碱法：生产成本：华东地区（周）","u":179.0,"v":2272},{"s":"纯碱：联碱法：生产成本：华东地区（周）","u":180.9,"v":2259},{"s":"纯碱：联碱法：生产成本：华东地区（周）","u":181.9,"v":2208},{"s":"纯碱：联碱法：生产成本：华东地区（周）","u":183.8,"v":2183},{"s":"纯碱：联碱法：生产成本：华东地区（周）","u":184.2,"v":2119},{"s":"纯碱：联碱法：生产成本：华东地区（周）","u":185.2,"v":2208},{"s":"纯碱：联碱法：生产成本：华东地区（周）","u":186.6,"v":2157},{"s":"纯碱：联碱法：生产成本：华东地区（周）","u":188.5,"v":2093},{"s":"纯碱：联碱法：生产成本：华东地区（周）","u":190.4,"v":2055},{"s":"纯碱：联碱法：生产成本：华东地区（周）","u":191.8,"v":1952},{"s":"纯碱：联碱法：生产成本：华东地区（周）","u":192.8,"v":1907},{"s":"纯碱：联碱法：生产成本：华东地区（周）","u":194.2,"v":1939},{"s":"纯碱：联碱法：生产成本：华东地区（周）","u":195.2,"v":1990},{"s":"纯碱：联碱法：生产成本：华东地区（周）","u":195.6,"v":1939},{"s":"纯碱：联碱法：生产成本：华东地区（周）","u":198.0,"v":1946},{"s":"纯碱：联碱法：生产成本：华东地区（周）","u":199.0,"v":2016},{"s":"纯碱：联碱法：生产成本：华东地区（周）","u":200.9,"v":2093},{"s":"纯碱：联碱法：生产成本：华东地区（周）","u":202.8,"v":2087},{"s":"纯碱：联碱法：生产成本：华东地区（周）","u":204.7,"v":2055},{"s":"纯碱：联碱法：生产成本：华东地区（周）","u":206.6,"v":2042},{"s":"纯碱：联碱法：生产成本：华东地区（周）","u":208.5,"v":2029},{"s":"纯碱：联碱法：生产成本：华东地区（周）","u":210.4,"v":2039},{"s":"纯碱：联碱法：生产成本：华东地区（周）","u":212.3,"v":2016},{"s":"纯碱：联碱法：生产成本：华东地区（周）","u":213.2,"v":1984}
    ]
  },
  "concat": [
    {
      "width": 760, "height": 44,
      "view": {"stroke": "#a6a6a6"},
      "data": {"values": [{"v": -1000}]},
      "mark": {"type": "rule", "opacity": 0},
      "encoding": {
        "y": {"field": "v", "type": "quantitative", "scale": {"domain": [-3124, 0], "nice": false, "zero": false},
          "axis": {"values": [-1000], "domain": false, "offset": -136, "labelExpr": "datum.value + '元/吨'"}}
      }
    },
    {
      "width": 925, "height": 44,
      "view": {"stroke": "#a6a6a6"},
      "data": {"values": [{"v": -2500}]},
      "mark": {"type": "rule", "opacity": 0},
      "encoding": {
        "y": {"field": "v", "type": "quantitative", "scale": {"domain": [-7810, 0], "nice": false, "zero": false},
          "axis": {"values": [-2500], "domain": false, "offset": -122, "labelExpr": "datum.value + '元/吨'"}}
      }
    },
    {
      "width": 760, "height": 58,
      "view": {"fill": "#2E75B6", "stroke": null},
      "data": {"values": [{"t": "图九.不同工艺玻璃生产理论成本（元/吨）"}]},
      "mark": {"type": "text", "font": "Noto Sans CJK SC", "fontWeight": "bold", "fontSize": 38, "color": "white", "dx": -2},
      "encoding": {"text": {"field": "t"}}
    },
    {
      "width": 925, "height": 58,
      "view": {"fill": "#2E75B6", "stroke": null},
      "data": {"values": [{"t": "图十.不同工艺纯碱生产理论成本（元/吨）"}]},
      "mark": {"type": "text", "font": "Noto Sans CJK SC", "fontWeight": "bold", "fontSize": 38, "color": "white", "dx": 2},
      "encoding": {"text": {"field": "t"}}
    },
    {
      "width": 760, "height": 593,
      "view": {"stroke": "#a6a6a6"},
      "layer": [
        {
          "data": {"values": [{}]},
          "mark": {"type": "rule", "color": "#8c8c8c", "strokeWidth": 1.2},
          "encoding": {
            "x": {"datum": -3, "type": "quantitative", "scale": {"domain": [-63.39, 275.89], "nice": false, "zero": false}},
            "x2": {"datum": 264},
            "y": {"datum": 900, "type": "quantitative", "scale": {"domain": [858.7, 3084.5], "nice": false, "zero": false}}
          }
        },
        {
          "data": {"values": [{}]},
          "mark": {"type": "rule", "color": "#8c8c8c", "strokeWidth": 1.2},
          "encoding": {
            "x": {"datum": 0, "type": "quantitative", "scale": {"domain": [-63.39, 275.89], "nice": false, "zero": false}},
            "y": {"datum": 900, "type": "quantitative", "scale": {"domain": [858.7, 3084.5], "nice": false, "zero": false}},
            "y2": {"datum": 2300}
          }
        },
        {
          "data": {"name": "glass"},
          "mark": {"type": "line", "strokeWidth": 2.8},
          "encoding": {
            "x": {"field": "u", "type": "quantitative", "scale": {"domain": [-63.39, 275.89], "nice": false, "zero": false},
              "axis": {"values": [0, 100, 200], "labels": false, "domain": false, "offset": -11}},
            "y": {"field": "v", "type": "quantitative", "scale": {"domain": [858.7, 3084.5], "nice": false, "zero": false},
              "axis": {"values": [900, 1100, 1300, 1500, 1700, 1900, 2100, 2300], "domain": false, "offset": -142, "labelExpr": "datum.value + '元/吨'"}},
            "color": {"field": "s", "type": "nominal",
              "scale": {"domain": ["浮法玻璃：以煤炭为燃料的浮法工艺：生产成本：中国（周）", "浮法玻璃：以石油焦为燃料的浮法工艺：生产成本：中国（周）", "浮法玻璃：以天然气为燃料的浮法工艺：生产成本：中国（周）"], "range": ["#C8161E", "#143C8C", "#BDBDBD"]},
              "legend": {"orient": "none", "legendX": 55, "legendY": 16, "direction": "vertical", "title": null, "symbolType": "M-1.4,0H1.4", "symbolSize": 1600, "symbolStrokeWidth": 3, "labelFont": "Noto Sans CJK SC", "labelFontSize": 24, "labelColor": "#8c8c8c", "labelLimit": 0, "labelOffset": 13, "rowPadding": 0, "labelExpr": "[replace(datum.label, '（周）', ''), '（周）']"}}
          }
        }
      ]
    },
    {
      "width": 925, "height": 593,
      "view": {"stroke": "#a6a6a6"},
      "layer": [
        {
          "data": {"values": [{}]},
          "mark": {"type": "rule", "color": "#8c8c8c", "strokeWidth": 1.2},
          "encoding": {
            "x": {"datum": -1, "type": "quantitative", "scale": {"domain": [-41.03, 222.51], "nice": false, "zero": false}},
            "x2": {"datum": 214},
            "y": {"datum": 1200, "type": "quantitative", "scale": {"domain": [1180.8, 3461.5], "nice": false, "zero": false}}
          }
        },
        {
          "data": {"values": [{}]},
          "mark": {"type": "rule", "color": "#8c8c8c", "strokeWidth": 1.2},
          "encoding": {
            "x": {"datum": 0, "type": "quantitative", "scale": {"domain": [-41.03, 222.51], "nice": false, "zero": false}},
            "y": {"datum": 1200, "type": "quantitative", "scale": {"domain": [1180.8, 3461.5], "nice": false, "zero": false}},
            "y2": {"datum": 3000}
          }
        },
        {
          "data": {"name": "soda"},
          "mark": {"type": "line", "strokeWidth": 2.8},
          "encoding": {
            "x": {"field": "u", "type": "quantitative", "scale": {"domain": [-41.03, 222.51], "nice": false, "zero": false},
              "axis": {"values": [0, 52, 104, 156, 208], "labels": false, "domain": false, "offset": -5}},
            "y": {"field": "v", "type": "quantitative", "scale": {"domain": [1180.8, 3461.5], "nice": false, "zero": false},
              "axis": {"values": [1200, 1400, 1600, 1800, 2000, 2200, 2400, 2600, 2800, 3000], "domain": false, "offset": -144, "labelPadding": 12, "labelExpr": "datum.value + '元/吨'"}},
            "color": {"field": "s", "type": "nominal",
              "scale": {"domain": ["重质纯碱：氨碱法：生产成本：华北地区（周）", "纯碱：联碱法：生产成本：华东地区（周）"], "range": ["#C8161E", "#143C8C"]},
              "legend": {"orient": "none", "legendX": 187, "legendY": 10, "direction": "vertical", "title": null, "symbolType": "stroke", "symbolSize": 2601, "symbolStrokeWidth": 3, "labelFont": "Noto Sans CJK SC", "labelFontSize": 24, "labelColor": "#8c8c8c", "labelLimit": 0, "labelOffset": 5, "rowPadding": 0}}
          }
        }
      ]
    }
  ]
}
